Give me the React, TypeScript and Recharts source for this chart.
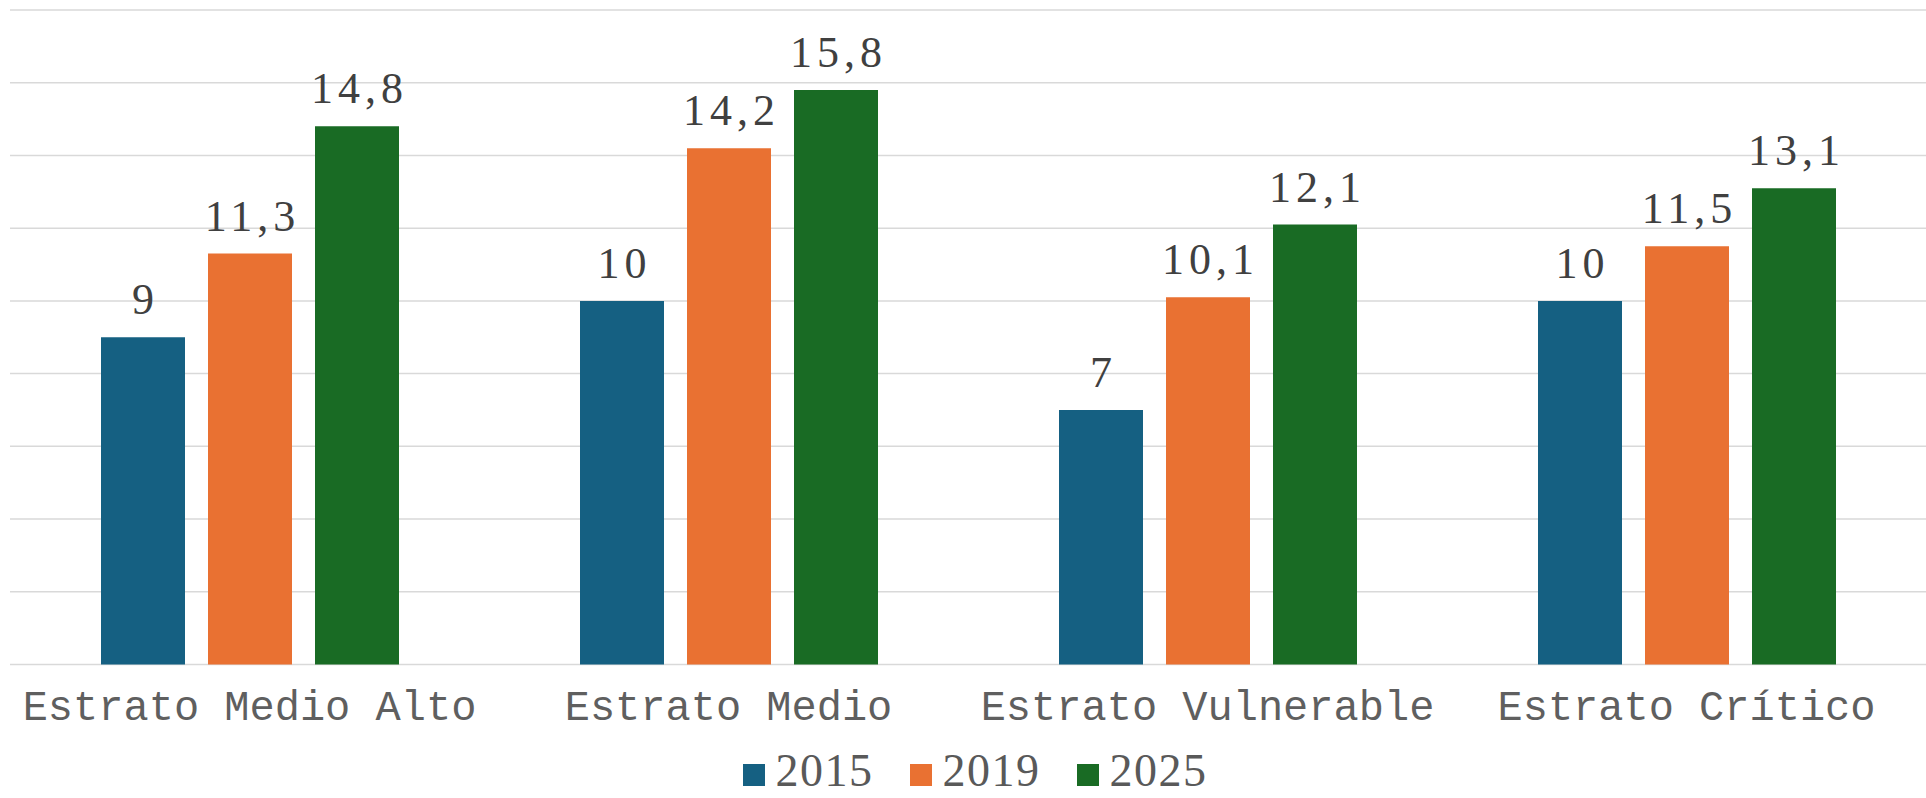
import { BarChart, Bar, XAxis, YAxis, CartesianGrid, Legend, LabelList } from 'recharts'

const categories = ['Estrato Medio Alto', 'Estrato Medio', 'Estrato Vulnerable', 'Estrato Crítico']
const values2015 = [9, 10, 7, 10]
const values2019 = [11.3, 14.2, 10.1, 11.5]
const values2025 = [14.8, 15.8, 12.1, 13.1]
const years = ['2015', '2019', '2025']
const yTicks = [0, 2, 4, 6, 8, 10, 12, 14, 16, 18]

const colors = ['#156082', '#E97132', '#196B24']

const data = categories.map((name, i) => ({
  name,
  y2015: values2015[i],
  y2019: values2019[i],
  y2025: values2025[i]
}))

// decimal comma, as in the original
const fmt = (v: number) => String(v).replace('.', ',')

const ValueLabel = (props: any) => {
  const { x, y, width, value } = props
  return (
    <text
      x={x + width / 2 + 2.5}
      y={y - 23}
      textAnchor="middle"
      fill="#404040"
      fontFamily="'Liberation Serif', 'Times New Roman', serif"
      fontSize={44}
      letterSpacing={5}
    >
      {fmt(value)}
    </text>
  )
}

const CategoryTick = ({ x, y, payload }: any) => (
  <text
    x={x}
    y={y + 55}
    textAnchor="middle"
    fill="#5f5f5f"
    fontFamily="'Liberation Mono', 'Courier New', monospace"
    fontSize={42}
  >
    {payload.value}
  </text>
)

const YearLegend = () => (
  <div
    style={{
      display: 'flex',
      justifyContent: 'center',
      height: 50,
      paddingLeft: 24,
      paddingTop: 0,
      boxSizing: 'border-box'
    }}
  >
    {years.map((year, i) => (
      <div key={year} style={{ whiteSpace: 'nowrap', lineHeight: '46px', marginRight: i < years.length - 1 ? 36 : 0 }}>
        <span
          style={{
            display: 'inline-block',
            width: 22,
            height: 22,
            background: colors[i],
            marginRight: 11,
            verticalAlign: 'baseline'
          }}
        />
        <span
          style={{
            fontFamily: "'Liberation Serif', 'Times New Roman', serif",
            fontSize: 46,
            color: '#595959',
            letterSpacing: 1.5
          }}
        >
          {year}
        </span>
      </div>
    ))}
  </div>
)

export default function App() {
  return (
    <div style={{ position: 'absolute', left: 0, top: 0, width: 1926, height: 798, background: '#fff' }}>
      <BarChart
        width={1926}
        height={798}
        data={data}
        margin={{ top: 10, right: 0, left: 10, bottom: 0 }}
        barCategoryGap={91}
        barGap={23}
      >
        <CartesianGrid vertical={false} stroke="#D9D9D9" strokeWidth={1.5} />
        <XAxis
          dataKey="name"
          axisLine={false}
          tickLine={false}
          tickSize={0}
          tickMargin={0}
          height={83.5}
          interval={0}
          tick={<CategoryTick />}
        />
        <YAxis hide domain={[0, 18]} ticks={yTicks} />
        <Legend
          verticalAlign="bottom"
          height={50}
          content={<YearLegend />}
          wrapperStyle={{ left: 0, width: 1926, bottom: 0 }}
        />
        <Bar dataKey="y2015" name="2015" fill={colors[0]} isAnimationActive={false}>
          <LabelList dataKey="y2015" content={<ValueLabel />} />
        </Bar>
        <Bar dataKey="y2019" name="2019" fill={colors[1]} isAnimationActive={false}>
          <LabelList dataKey="y2019" content={<ValueLabel />} />
        </Bar>
        <Bar dataKey="y2025" name="2025" fill={colors[2]} isAnimationActive={false}>
          <LabelList dataKey="y2025" content={<ValueLabel />} />
        </Bar>
      </BarChart>
    </div>
  )
}
